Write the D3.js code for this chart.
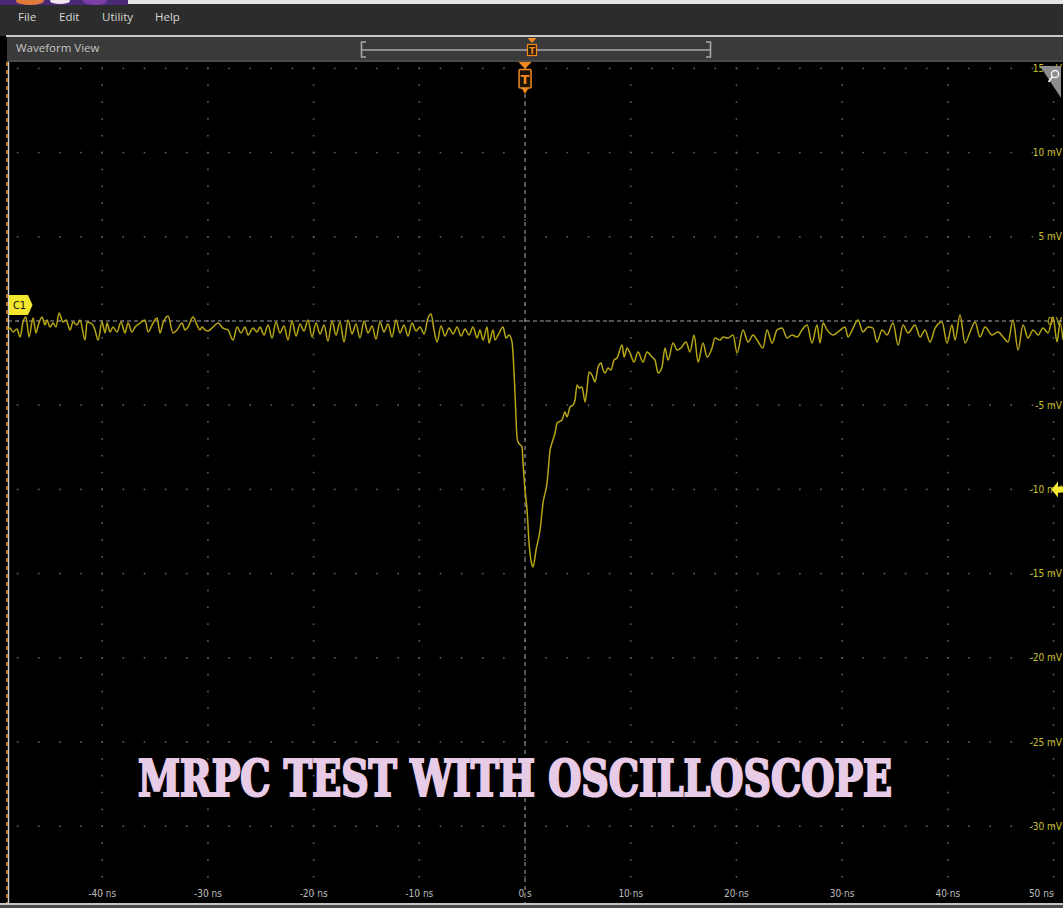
<!DOCTYPE html>
<html>
<head>
<meta charset="utf-8">
<script src="https://cdn.jsdelivr.net/npm/d3@7"></script>
<style>
  html, body { margin: 0; padding: 0; background: #000; }
  svg { display: block; }
</style>
</head>
<body>
<script>
// ---- Channel 1 record (time in ns, amplitude in mV) ----
const timeNs = [
  -48.91,-48.72,-48.44,-48.06,-47.77,-47.49,-47.21,-46.92,-46.54,-46.26,-46.07,-45.69,-45.41,-45.22,-44.94,-44.65,-44.37,-44.08,-43.71,-43.42,
  -43.04,-42.76,-42.38,-42.10,-41.62,-41.43,-40.96,-40.68,-40.39,-40.02,-39.73,-39.54,-39.26,-38.98,-38.60,-38.22,-37.84,-37.56,-37.18,-36.89,
  -36.42,-35.95,-35.66,-35.19,-34.81,-34.53,-34.25,-33.77,-33.30,-32.92,-32.45,-32.16,-31.88,-31.41,-31.03,-30.75,-30.56,-30.27,-29.99,-29.52,
  -29.04,-28.57,-28.10,-27.62,-27.24,-26.87,-26.49,-26.20,-25.73,-25.35,-25.07,
  -24.69,-24.31,-23.93,-23.56,-23.18,-22.80,-22.42,-22.04,-21.66,-21.29,-20.91,-20.53,-20.15,-19.77,-19.39,-19.01,-18.64,-18.26,-17.88,-17.50,
  -17.12,-16.74,-16.37,-15.99,-15.61,-15.23,-14.85,-14.47,-14.10,-13.72,-13.34,-12.96,-12.58,-12.20,-11.83,-11.45,-11.07,-10.69,-10.31,-9.93,
  -9.55,-9.18,-8.89,-8.61,-8.32,-7.95,-7.57,-7.19,-6.81,-6.43,-6.05,-5.68,-5.30,-4.92,-4.54,
  -4.26,-3.97,-3.59,-3.41,-3.03,-2.84,-2.55,-2.08,-1.80,-1.51,-1.23,-1.14,-0.95,-0.76,-0.66,-0.28,-0.19,0.00,0.19,0.38,
  0.66,0.76,1.04,1.42,1.70,2.08,2.37,2.55,2.84,3.03,3.50,3.78,3.97,4.26,4.54,4.73,4.92,5.11,5.39,5.68,
  5.87,6.05,6.34,6.62,6.91,7.19,7.38,7.57,7.85,8.14,8.42,8.70,9.18,9.37,9.65,9.93,10.31,10.69,11.16,11.54,
  12.01,12.30,12.58,12.96,13.24,13.53,14.00,14.38,14.76,15.23,15.61,15.99,16.37,16.84,17.22,17.69,17.97,18.45,18.73,19.20,
  19.68,20.06,20.62,21.10,21.57,21.95,22.51,22.89,23.37,23.84,24.31,24.79,25.26,25.73,26.20,26.68,27.15,27.62,27.91,28.19,
  28.57,29.14,29.61,30.27,30.56,31.03,31.50,31.97,32.45,32.92,33.30,33.77,34.25,34.81,35.29,35.76,36.23,36.89,37.37,37.84,
  38.31,38.79,39.45,39.92,40.39,40.68,41.15,41.62,42.10,42.57,43.04,43.52,44.18,44.75,45.22,45.69,46.16,46.64,47.11,47.58,
  48.06,48.53,49.00,49.48,49.95,50.33,50.61,50.89
];
const voltageMv = [
  -0.53,-0.42,-0.65,-0.48,-0.95,-0.06,0.24,-0.95,0.18,-0.71,-0.30,0.24,-0.24,0.06,-0.36,-0.12,-0.36,0.48,-0.06,0.06,
  -0.53,-0.06,-0.24,0.06,-1.13,-0.06,-0.18,-0.53,-1.13,-0.06,-0.71,-0.12,-0.65,-0.36,-0.65,-0.06,-0.71,-0.12,-0.65,-0.36,
  -0.12,0.06,-0.65,-0.12,0.18,-0.71,-0.12,0.30,-0.71,-0.53,-0.12,-0.53,-0.36,0.24,-0.24,-0.53,-0.36,-0.53,-0.59,-0.36,
  -0.12,-0.42,-0.53,-1.13,-0.36,-0.71,-0.36,-0.83,-0.42,-0.65,-0.36,
  -0.83,-0.24,-1.01,-0.06,-0.71,-0.30,-1.13,0.00,-0.89,-0.18,-0.59,0.06,-0.95,-0.12,-0.77,-0.24,-1.19,0.00,-0.83,-0.06,
  -1.25,0.06,-0.77,-0.18,-1.01,0.00,-0.71,-0.30,-1.07,-0.06,-0.65,-0.18,-0.95,0.06,-0.71,-0.24,-0.89,-0.12,-0.59,-0.36,
  -0.77,0.18,0.42,-0.53,-1.25,-0.30,-0.89,-0.42,-0.77,-0.36,-0.89,-0.48,-0.83,-0.36,-1.01,
  -0.53,-1.13,-0.36,-1.31,-0.53,-1.13,-0.83,-0.36,-1.01,-0.83,-1.25,-1.90,-4.28,-6.89,-7.19,-7.48,-8.43,-10.04,-11.22,-13.18,
  -14.49,-14.61,-13.60,-12.41,-10.81,-9.62,-7.66,-7.24,-6.65,-6.06,-5.88,-5.40,-5.70,-5.11,-4.99,-4.69,-3.80,-3.98,-3.92,-4.81,
  -3.98,-3.03,-3.21,-3.62,-2.73,-2.49,-2.91,-3.09,-2.79,-2.91,-2.32,-2.20,-1.43,-2.14,-1.60,-1.90,-2.43,-1.84,-2.43,-1.84,
  -2.14,-2.32,-3.09,-2.73,-1.60,-2.32,-1.31,-1.72,-1.60,-1.25,-1.84,-0.83,-2.43,-1.31,-2.14,-1.60,-1.01,-1.13,-0.95,-1.01,
  -0.83,-1.90,-0.53,-1.25,-0.83,-1.13,-1.60,-0.53,-1.31,-0.53,-0.42,-1.01,-0.83,-0.95,-0.53,-0.24,-1.31,-0.24,-1.31,-0.12,
  -0.53,-0.83,-0.65,-0.36,-0.95,-0.42,0.06,-0.65,-0.36,-0.42,-1.25,-0.53,-0.83,-0.12,-1.43,-0.24,-0.71,-0.24,-0.95,-0.53,
  -1.25,-0.42,-0.06,-1.31,-0.24,-1.13,0.36,-1.31,-0.65,-0.06,-0.95,-0.36,-0.83,-0.65,-0.95,-1.25,0.06,-1.72,-0.24,-1.01,
  -0.53,-0.83,-0.42,-0.71,0.24,-1.25,-0.12,-1.13
];

// ---- Graticule and labels ----
const timeTicks = [-40, -30, -20, -10, 0, 10, 20, 30, 40, 50];
const timeTickLabels = ["-40 ns", "-30 ns", "-20 ns", "-10 ns", "0 s", "10 ns", "20 ns", "30 ns", "40 ns", "50 ns"];
const voltTicks = [15, 10, 5, 0, -5, -10, -15, -20, -25, -30];
const voltTickLabels = ["15 mV", "10 mV", "5 mV", "0 V", "-5 mV", "-10 mV", "-15 mV", "-20 mV", "-25 mV", "-30 mV"];
const menuItems = ["File", "Edit", "Utility", "Help"];
const triggerLevelMv = -10;
const titleText = "MRPC TEST WITH OSCILLOSCOPE";

const W = 1063, H = 908;
const plot = { left: 8, right: 1063, top: 62, bottom: 903 };

const svg = d3.select("body").append("svg")
  .attr("width", W).attr("height", H)
  .style("background", "#000");

const x = d3.scaleLinear().domain([-48.91, 50.89]).range([plot.left, plot.right]);
const y = d3.scaleLinear().domain([15.38, -34.56]).range([plot.top, plot.bottom]);

// ---- Window chrome ----
svg.append("rect").attr("x", 0).attr("y", 0).attr("width", W).attr("height", 36).attr("fill", "#2c2c2c");
svg.append("rect").attr("x", 0).attr("y", 0).attr("width", W).attr("height", 4).attr("fill", "#e4e4e4");
svg.append("rect").attr("x", 0).attr("y", 0).attr("width", 128).attr("height", 5).attr("fill", "#4b2a78");
svg.append("ellipse").attr("cx", 30).attr("cy", 1).attr("rx", 14).attr("ry", 4).attr("fill", "#e07a3a");
svg.append("ellipse").attr("cx", 60).attr("cy", 1).attr("rx", 10).attr("ry", 3).attr("fill", "#f2e6f2");
svg.append("ellipse").attr("cx", 95).attr("cy", 1).attr("rx", 12).attr("ry", 4).attr("fill", "#7a3fa6");

const menuX = [18, 59, 102, 155];
svg.selectAll("text.menu").data(menuItems).join("text")
  .attr("class", "menu")
  .attr("x", (d, i) => menuX[i]).attr("y", 21)
  .attr("font-family", "'Open Sans', 'Noto Sans', sans-serif")
  .attr("font-size", 11.5).attr("fill", "#d6d6d6")
  .text(d => d);

svg.append("rect").attr("x", 6).attr("y", 35).attr("width", W - 6).attr("height", 2).attr("fill", "#c8c8c8");
svg.append("rect").attr("x", 7).attr("y", 37).attr("width", W - 7).attr("height", 24).attr("fill", "#3a3a3a");
svg.append("rect").attr("x", 7).attr("y", 60).attr("width", W - 7).attr("height", 2).attr("fill", "#4a4a4a");
svg.append("text").attr("x", 16).attr("y", 52)
  .attr("font-family", "'Open Sans', 'Noto Sans', sans-serif")
  .attr("font-size", 11.5).attr("fill", "#c6c6c6")
  .text("Waveform View");

// record overview bar with brackets
const ov = svg.append("g").attr("stroke", "#a8a8a8").attr("fill", "none").attr("stroke-width", 1.6);
ov.append("line").attr("x1", 362).attr("x2", 710).attr("y1", 50).attr("y2", 50);
ov.append("path").attr("d", "M366,42 H361.5 V57 H366");
ov.append("path").attr("d", "M706,42 H710.5 V57 H706");
const ovT = svg.append("g");
ovT.append("path").attr("d", "M527.5,38 L536.5,38 L532,43 Z").attr("fill", "#f08a1e");
ovT.append("rect").attr("x", 527.5).attr("y", 44.5).attr("width", 9).attr("height", 11)
  .attr("fill", "#2a1d0c").attr("stroke", "#f08a1e").attr("stroke-width", 1.2);
ovT.append("text").attr("x", 532).attr("y", 54).attr("text-anchor", "middle")
  .attr("font-family", "'DejaVu Sans', sans-serif").attr("font-size", 9).attr("font-weight", "bold")
  .attr("fill", "#f08a1e").text("T");

// ---- Plot area ----
svg.append("rect").attr("x", plot.left).attr("y", plot.top)
  .attr("width", plot.right - plot.left).attr("height", plot.bottom - plot.top).attr("fill", "#000");

// graticule dots: minor marks along the major rows and columns
const dots = [];
voltTicks.forEach(v => {
  for (let t = -48; t <= 50; t += 2) dots.push([t, v]);
});
timeTicks.forEach(t => {
  for (let v = 15; v >= -34; v -= 1) dots.push([t, v]);
});
svg.append("g").selectAll("rect").data(dots).join("rect")
  .attr("x", d => x(d[0]) - 0.8).attr("y", d => y(d[1]) - 0.8)
  .attr("width", 1.6).attr("height", 1.6).attr("fill", "#5e5e5e");

// zero-time and zero-volt reference lines
svg.append("line").attr("x1", x(0)).attr("x2", x(0)).attr("y1", plot.top).attr("y2", plot.bottom)
  .attr("stroke", "#9a9a9a").attr("stroke-width", 1.1).attr("stroke-dasharray", "4,4");
svg.append("line").attr("x1", plot.left).attr("x2", plot.right).attr("y1", y(0)).attr("y2", y(0))
  .attr("stroke", "#a0a0a0").attr("stroke-width", 1.1).attr("stroke-dasharray", "4,3");

// left border of the view
svg.append("line").attr("x1", 8.5).attr("x2", 8.5).attr("y1", plot.top).attr("y2", plot.bottom)
  .attr("stroke", "#cfcfcf").attr("stroke-width", 1.4);
svg.append("line").attr("x1", 7).attr("x2", 7).attr("y1", plot.top).attr("y2", plot.bottom)
  .attr("stroke", "#e08a2a").attr("stroke-width", 1.6).attr("stroke-dasharray", "4,4");

// vertical axis labels
svg.append("g").selectAll("text").data(voltTicks).join("text")
  .attr("x", 1062).attr("y", d => y(d) + 3.5)
  .attr("text-anchor", "end")
  .attr("font-family", "'Liberation Sans Narrow', 'DejaVu Sans Condensed', sans-serif")
  .attr("font-size", 10).attr("fill", "#c8c032")
  .text((d, i) => voltTickLabels[i]);

// time axis labels (the last one is kept inside the right edge)
svg.append("g").selectAll("text").data(timeTicks).join("text")
  .attr("x", d => Math.min(x(d), 1062))
  .attr("y", 897)
  .attr("text-anchor", d => x(d) + 12 > W ? "end" : "middle")
  .attr("font-family", "'Liberation Sans Narrow', 'DejaVu Sans Condensed', sans-serif")
  .attr("font-size", 10).attr("fill", "#bdbdbd")
  .text((d, i) => timeTickLabels[i]);

// ---- Waveform ----
const pts = timeNs.map((t, i) => [t, voltageMv[i]]);
const line = d3.line().x(d => x(d[0])).y(d => y(d[1])).curve(d3.curveMonotoneX);
svg.append("path").datum(pts)
  .attr("d", line)
  .attr("fill", "none")
  .attr("stroke", "#b6a614")
  .attr("stroke-width", 1.5)
  .attr("stroke-linejoin", "round");

// ---- Markers ----
// trigger position marker
const tx = x(0);
const trig = svg.append("g");
trig.append("path").attr("d", `M${tx - 6.5},62 L${tx + 6.5},62 L${tx},69 Z`).attr("fill", "#f08a1e");
trig.append("rect").attr("x", tx - 6).attr("y", 69.5).attr("width", 12).attr("height", 18.5).attr("rx", 1)
  .attr("fill", "#1e1408").attr("stroke", "#f08a1e").attr("stroke-width", 1.5);
trig.append("text").attr("x", tx).attr("y", 84).attr("text-anchor", "middle")
  .attr("font-family", "'DejaVu Sans', sans-serif").attr("font-size", 13).attr("font-weight", "bold")
  .attr("fill", "#f08a1e").text("T");
trig.append("path").attr("d", `M${tx - 3.5},88 L${tx + 3.5},88 L${tx},94 Z`).attr("fill", "#f08a1e");

// channel 1 offset marker
const c1y = y(0) - 16;
svg.append("path")
  .attr("d", `M9,${c1y - 10} L28,${c1y - 10} L32.5,${c1y} L28,${c1y + 10} L9,${c1y + 10} Z`)
  .attr("fill", "#f3e62e");
svg.append("text").attr("x", 19.5).attr("y", c1y + 4).attr("text-anchor", "middle")
  .attr("font-family", "'DejaVu Sans Condensed', 'DejaVu Sans', sans-serif")
  .attr("font-size", 11).attr("fill", "#111").text("C1");

// trigger level marker
const ly = y(triggerLevelMv);
svg.append("path")
  .attr("d", `M1051.5,${ly} L1058,${ly - 8} L1058,${ly - 3} L1063,${ly - 3} L1063,${ly + 3} L1058,${ly + 3} L1058,${ly + 8} Z`)
  .attr("fill", "#f5e832");

// zoom corner badge
svg.append("path").attr("d", "M1040,66 L1061,66 L1061,98 Z").attr("fill", "#8c8c8c");
svg.append("circle").attr("cx", 1055).attr("cy", 74).attr("r", 3.6)
  .attr("fill", "none").attr("stroke", "#f2f2f2").attr("stroke-width", 1.5);
svg.append("line").attr("x1", 1052.5).attr("y1", 76.5).attr("x2", 1048.5).attr("y2", 82)
  .attr("stroke", "#f2f2f2").attr("stroke-width", 1.8);

// bottom frame
svg.append("rect").attr("x", 0).attr("y", 903).attr("width", W).attr("height", 2).attr("fill", "#c4c4c4");
svg.append("rect").attr("x", 0).attr("y", 905).attr("width", W).attr("height", 3).attr("fill", "#4a4a4a");

// ---- Title (heavy condensed lettering) ----
svg.append("text")
  .attr("x", 138).attr("y", 796)
  .attr("textLength", 754).attr("lengthAdjust", "spacingAndGlyphs")
  .attr("font-family", "'DejaVu Serif', serif")
  .attr("font-weight", "bold")
  .attr("font-stretch", "condensed")
  .attr("font-size", 50)
  .attr("fill", "#e7cbe7")
  .attr("stroke", "#e7cbe7")
  .attr("stroke-width", 2.2)
  .attr("stroke-linejoin", "miter")
  .text(titleText);
</script>
</body>
</html>
